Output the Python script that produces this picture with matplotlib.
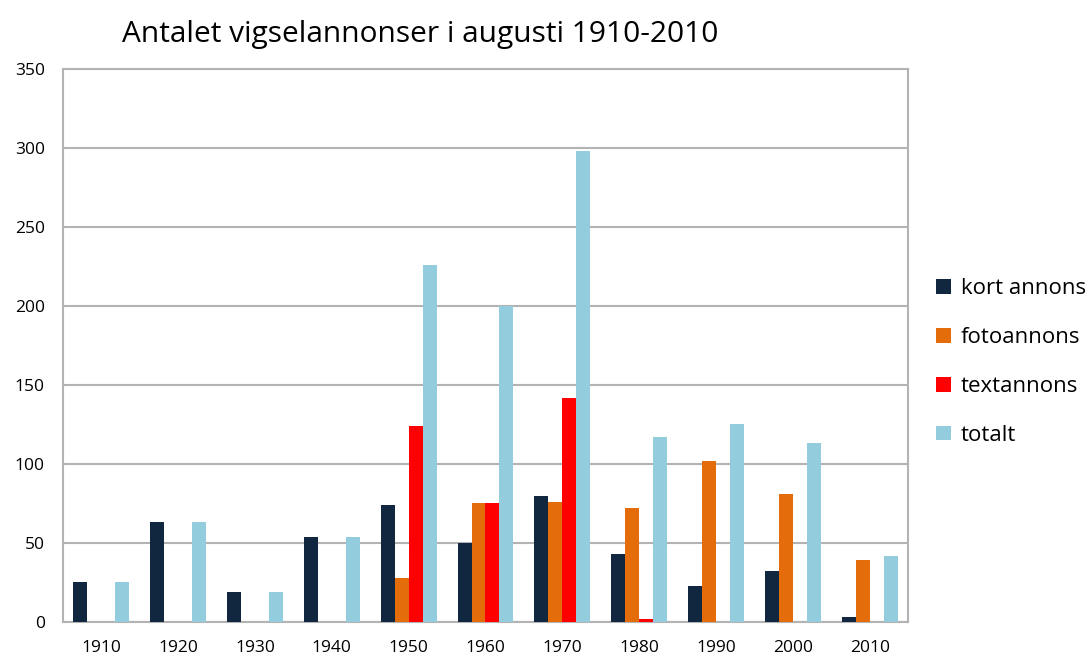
import numpy as np
import matplotlib
matplotlib.use("Agg")
import matplotlib.pyplot as plt

# data
years = ["1910", "1920", "1930", "1940", "1950", "1960", "1970", "1980", "1990", "2000", "2010"]
kort_annons = [25, 63, 19, 54, 74, 50, 80, 43, 23, 32, 3]
fotoannons = [0, 0, 0, 0, 28, 75, 76, 72, 102, 81, 39]
textannons = [0, 0, 0, 0, 124, 75, 142, 2, 0, 0, 0]
totalt = [25, 63, 19, 54, 226, 200, 298, 117, 125, 113, 42]

series = [
    ("kort annons", kort_annons, "#11263f"),
    ("fotoannons", fotoannons, "#e46c0a"),
    ("textannons", textannons, "#ff0000"),
    ("totalt", totalt, "#93cddd"),
]

plt.rcParams["font.family"] = ["Open Sans", "DejaVu Sans"]

fig = plt.figure(figsize=(10.91, 6.57), dpi=100)
ax = fig.add_axes([0.0577, 0.0533, 0.7746, 0.8417])

x = np.arange(len(years))
w = 0.182
for i, (name, vals, col) in enumerate(series):
    ax.bar(x + (i - 1.5) * w, vals, width=w, color=col, label=name, zorder=3)

ax.set_xlim(-0.5, len(years) - 0.5)
ax.set_ylim(0, 350)
ax.set_yticks(range(0, 351, 50))
ax.set_xticks(x)
ax.set_xticklabels(years)
ax.tick_params(length=0, labelsize=12.5, colors="#000000")
ax.tick_params(axis="y", pad=13)
ax.tick_params(axis="x", pad=13)
ax.grid(axis="y", color="#b3b3b3", linewidth=1.5, zorder=0)
for s in ax.spines.values():
    s.set_color("#b3b3b3")
    s.set_linewidth(1.5)

fig.text(0.112, 0.947, "Antalet vigselannonser i augusti 1910-2010", fontsize=21.5, va="center", ha="left")

ax.legend(loc="center left", bbox_to_anchor=(1.023, 0.47), frameon=False, fontsize=16,
          handlelength=0.65, handleheight=0.65, handletextpad=0.45, labelspacing=1.25,
          borderaxespad=0)

fig.savefig("out.png", dpi=100)
